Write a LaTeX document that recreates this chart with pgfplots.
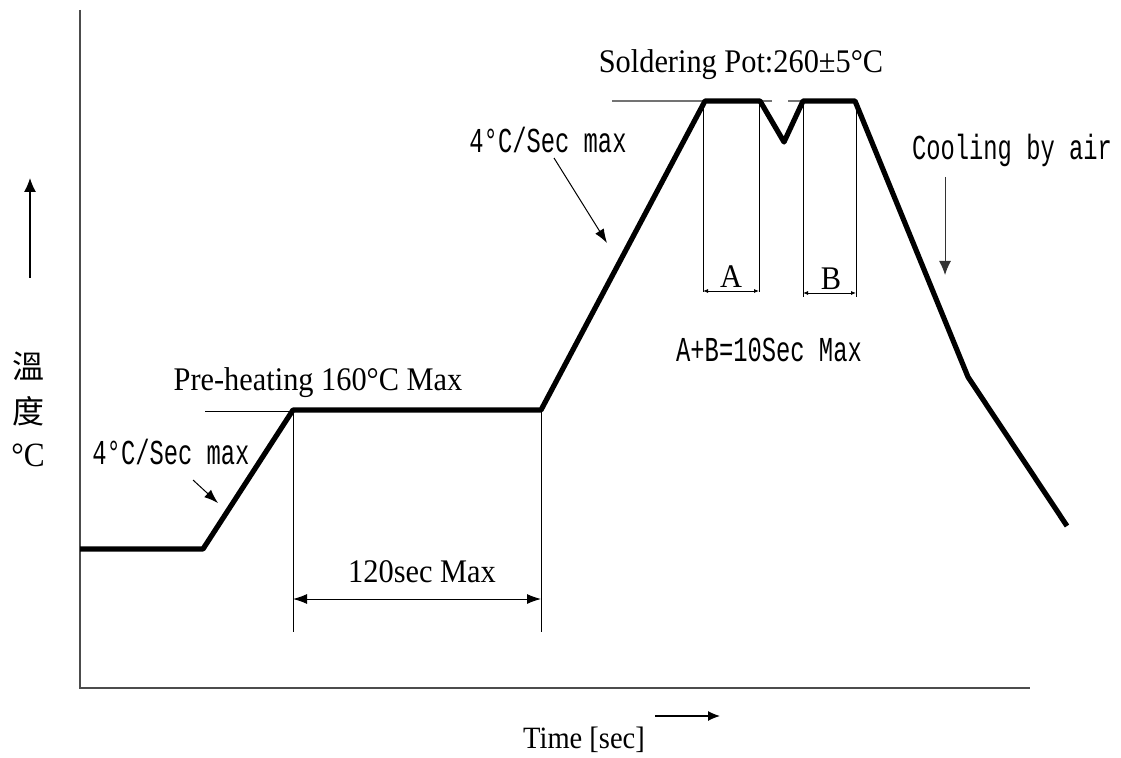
\documentclass[border=0pt]{standalone}
\usepackage{fontspec}
\setmainfont{Liberation Serif}
\newfontfamily\mingmono[FakeStretch=0.68]{Liberation Mono}
\newfontfamily\condserif[FakeStretch=0.92]{Liberation Serif}
\newfontfamily\cjk{Noto Sans CJK TC}
\usepackage{pgfplots}
\pgfplotsset{compat=1.18}
\usetikzlibrary{arrows.meta}
\begin{document}
\begin{tikzpicture}
\begin{axis}[name=ax, scale only axis, width=560.5pt, height=379pt,
  xmin=0, xmax=1121, ymin=0, ymax=758, y dir=reverse, hide axis, clip=false]
% axes
\addplot[black!70, line width=0.6pt] coordinates {(80,10) (80,688) (1030,688)};
% reference lines
\addplot[black!55, line width=0.8pt] coordinates {(612,101) (705,101)};
\addplot[black!55, line width=0.8pt] coordinates {(760,101) (772,101)};
\addplot[black!55, line width=0.8pt] coordinates {(788,101) (803,101)};
\addplot[black, line width=0.5pt] coordinates {(205,411) (293,411)};
% vertical guide lines
\addplot[black, line width=0.4pt] coordinates {(293,410) (293,632)};
\addplot[black, line width=0.4pt] coordinates {(541,410) (541,632)};
\addplot[black, line width=0.4pt] coordinates {(703,101) (703,292)};
\addplot[black, line width=0.4pt] coordinates {(759,101) (759,292)};
\addplot[black, line width=0.4pt] coordinates {(803,101) (803,297)};
\addplot[black, line width=0.4pt] coordinates {(856,101) (856,297)};
% profile
\addplot[black, line width=2.6pt, line join=round] coordinates {(80,549) (203,549) (293,410) (541,410) (705,101) (760,101) (784,142) (803,101) (855,101) (968,377) (1067,526)};
% dimension arrows
\addplot[black, line width=0.5pt, {Latex[length=7pt,width=5pt]}-{Latex[length=7pt,width=5pt]}] coordinates {(293,599) (541,599)};
\addplot[black, line width=0.4pt, {Latex[length=2.5pt,width=2pt]}-{Latex[length=2.5pt,width=2pt]}] coordinates {(703,291) (759,291)};
\addplot[black, line width=0.4pt, {Latex[length=2.5pt,width=2pt]}-{Latex[length=2.5pt,width=2pt]}] coordinates {(803,293) (856,293)};
% pointer arrows
\addplot[black, line width=0.5pt, -{Latex[length=7pt,width=5pt]}] coordinates {(554,158) (607,243)};
\addplot[black, line width=0.5pt, -{Latex[length=7pt,width=5pt]}] coordinates {(193,480) (218,503)};
\addplot[black!80, line width=0.5pt, -{Latex[length=7pt,width=6pt]}] coordinates {(945,177) (945,275)};
\addplot[black, line width=0.6pt, -{Latex[length=7pt,width=6pt]}] coordinates {(30,278) (30,178)};
\addplot[black, line width=0.6pt, -{Latex[length=6pt,width=5pt]}] coordinates {(655,716) (720,716)};
% texts
\node[font=\condserif\fontsize{16.5}{18}\selectfont] at (axis cs:741,65) {Soldering Pot:260±5°C};
\node[font=\condserif\fontsize{16.5}{18}\selectfont] at (axis cs:318,383) {Pre-heating 160°C Max};
\node[font=\condserif\fontsize{16.5}{18}\selectfont] at (axis cs:422,572) {120sec Max};
\node[font=\condserif\fontsize{16.5}{18}\selectfont] at (axis cs:731,277) {A};
\node[font=\condserif\fontsize{16.5}{18}\selectfont] at (axis cs:831,279) {B};
\node[font=\condserif\fontsize{15.5}{16}\selectfont] at (axis cs:584,740) {Time [sec]};
\node[font=\mingmono\fontsize{17.5}{18}\selectfont] at (axis cs:548,140) {4°C/Sec max};
\node[font=\mingmono\fontsize{17.5}{18}\selectfont] at (axis cs:171,452) {4°C/Sec max};
\node[font=\mingmono\fontsize{17.5}{18}\selectfont] at (axis cs:1012,150) {Cooling by air};
\node[font=\mingmono\fontsize{17.5}{18}\selectfont] at (axis cs:769,350) {A+B=10Sec Max};
\node[font=\cjk\fontsize{16}{18}\selectfont] at (axis cs:28,366) {溫};
\node[font=\cjk\fontsize{16}{18}\selectfont] at (axis cs:28,411) {度};
\node[font=\condserif\fontsize{17}{18}\selectfont] at (axis cs:28,455) {°C};
\end{axis}
\pgfresetboundingbox
\path (ax.south west) rectangle (ax.north east);
\end{tikzpicture}
\end{document}
